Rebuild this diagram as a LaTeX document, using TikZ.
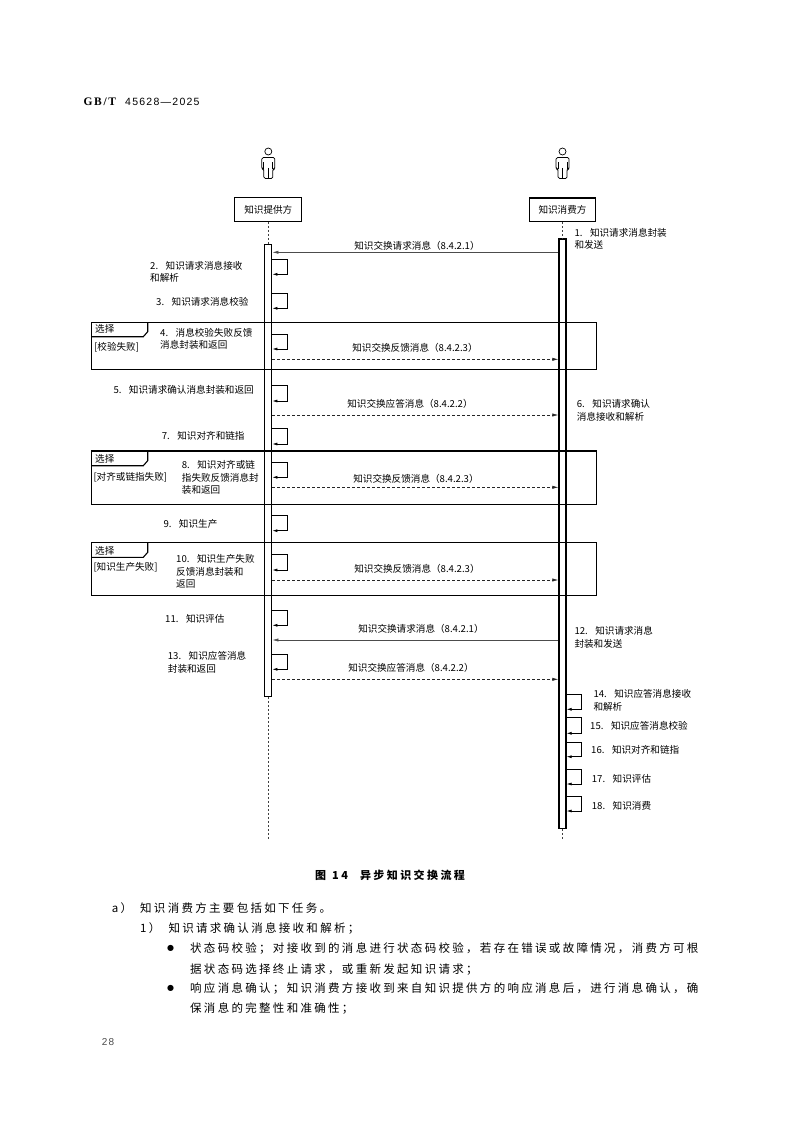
\documentclass[tikz,border=0pt]{standalone}
\usepackage{fontspec}
\setmainfont{Noto Sans CJK SC}
\newfontfamily\cjk{Noto Sans CJK SC}
\newfontfamily\bodyfont[LetterSpace=20]{Noto Sans CJK SC}
\newfontfamily\capfont[LetterSpace=22]{Noto Sans CJK SC}
\newfontfamily\hdserif[LetterSpace=15]{Liberation Serif}
\newfontfamily\hdsans[LetterSpace=12]{Liberation Sans}
\newfontfamily\symfont{DejaVu Sans}
\usetikzlibrary{arrows.meta}
\newcommand{\stepno}[1]{#1.\hspace{7.5pt}}
\newcommand{\selfcall}[4]{%
  \draw[selfmsg] (#1.east |- 0,#2) -- (#4,#2) -- (#4,#3) -- (#1.east |- 0,#3);}
\newcommand{\actorfig}[2]{%
  \node[circle, draw, line width=0.7pt, minimum size=7pt, inner sep=0pt] (#2) at (#1,151.5) {};
  \draw[line width=0.7pt, rounded corners=1.5pt] (#1-4.5,178.5) -- (#1-4.5,169) -- (#1-6.5,169) -- (#1-6.5,157.5) -- (#1+6.5,157.5) -- (#1+6.5,169) -- (#1+4.5,169) -- (#1+4.5,178.5) -- cycle;
  \draw[line width=0.7pt] (#1-4.5,162.5) -- (#1-4.5,169) (#1+4.5,162.5) -- (#1+4.5,169) (#1,168) -- (#1,178.5);}
\tikzset{
  dtext/.style={font=\cjk\fontsize{9.6}{12.4}\selectfont, inner sep=0pt, anchor=base west, align=left},
  mtext/.style={font=\cjk\fontsize{9.6}{12.4}\selectfont, inner sep=0pt, anchor=base},
  btext/.style={font=\bodyfont\fontsize{11.5}{14}\selectfont, inner sep=0pt, anchor=base west},
  actorbox/.style={draw, line width=1.1pt, minimum width=67pt, minimum height=23.5pt, inner sep=0pt, font=\cjk\fontsize{9.6}{12}\selectfont},
  lifeline/.style={line width=0.6pt, dash pattern=on 2pt off 2pt, black!75},
  actbar/.style={draw, line width=1.2pt, fill=white, minimum width=7pt, inner sep=0pt, anchor=north},
  callmsg/.style={line width=0.6pt, black!70, -{Latex[length=6pt,width=3.2pt]}},
  retmsg/.style={line width=0.6pt, black!85, dash pattern=on 3pt off 2pt, -{Latex[length=6pt,width=3.2pt]}},
  selfmsg/.style={line width=0.7pt, -{Latex[length=5pt,width=3pt]}},
  frm/.style={line width=1.1pt},
}
\begin{document}
\begin{tikzpicture}[x=1pt,y=-1pt]
\useasboundingbox (0,0) rectangle (794,1123);
\fill[white] (0,0) rectangle (794,1123);

% header
\node[font=\hdserif\bfseries\fontsize{11.5}{13}\selectfont, anchor=base west, inner sep=0pt] (hd1) at (83.3,105.7) {GB/T};
\node[font=\hdsans\fontsize{10.5}{13}\selectfont, anchor=base west, inner sep=0pt] (hd2) at (125,105.7) {45628—2025};

% actors
\actorfig{268.3}{phead}
\actorfig{562.5}{chead}
\node[actorbox] (pbox) at (268.3,209.7) {知识提供方};
\node[actorbox, minimum width=66pt] (cbox) at (562.5,209.8) {知识消费方};

% activation bars
\node[actbar, minimum height=451.7pt] (pbar) at (268.3,244) {};
\node[actbar, minimum height=589.4pt] (cbar) at (562.5,238.3) {};
\coordinate (pend) at (268.3,840);
\coordinate (cend) at (562.5,840);
\draw[lifeline] (pbox.south) -- (pbar.north);
\draw[lifeline] (cbox.south) -- (cbar.north);
\draw[lifeline] (pbar.south) -- (pend);
\draw[lifeline] (cbar.south) -- (cend);

% frames
\draw[frm] (91.7,322.3) rectangle (596.7,369.3);
\draw[frm] (91.7,336.7) -- (143.3,336.7) -- (147.7,331.7) -- (147.7,322.3);
\draw[frm] (91.7,451) rectangle (596.7,504.7);
\draw[frm] (91.7,465.7) -- (143.3,465.7) -- (147.7,460.7) -- (147.7,451);
\draw[frm] (91.7,542.7) rectangle (596.7,595.3);
\draw[frm] (91.7,557.3) -- (143.3,557.3) -- (147.7,552.3) -- (147.7,542.7);
\node[dtext] (f1a) at (95,332.9) {选择};
\node[dtext] (f1b) at (94,350.3) {[校验失败]};
\node[dtext] (f2a) at (95,462.9) {选择};
\node[dtext] (f2b) at (93.3,480.3) {[对齐或链指失败]};
\node[dtext] (f3a) at (95,554.3) {选择};
\node[dtext] (f3b) at (93.3,570.3) {[知识生产失败]};

% messages
\draw[callmsg] (cbar.west |- 0,252.3) -- (pbar.east |- 0,252.3);
\draw[retmsg] (pbar.east |- 0,359.3) -- (cbar.west |- 0,359.3);
\draw[retmsg] (pbar.east |- 0,415) -- (cbar.west |- 0,415);
\draw[retmsg] (pbar.east |- 0,487.3) -- (cbar.west |- 0,487.3);
\draw[retmsg] (pbar.east |- 0,580) -- (cbar.west |- 0,580);
\draw[callmsg] (cbar.west |- 0,640) -- (pbar.east |- 0,640);
\draw[retmsg] (pbar.east |- 0,679.3) -- (cbar.west |- 0,679.3);

\node[mtext] (m1) at (417,249.6) {知识交换请求消息（8.4.2.1）};
\node[mtext] (m4) at (415,351.3) {知识交换反馈消息（8.4.2.3）};
\node[mtext] (m5) at (410,407.9) {知识交换应答消息（8.4.2.2）};
\node[mtext] (m8) at (416,482.6) {知识交换反馈消息（8.4.2.3）};
\node[mtext] (m10) at (417,572.9) {知识交换反馈消息（8.4.2.3）};
\node[mtext] (m12) at (421,632.9) {知识交换请求消息（8.4.2.1）};
\node[mtext] (m13) at (411,671.3) {知识交换应答消息（8.4.2.2）};

% self calls provider
\selfcall{pbar}{259}{274.3}{287.7}
\selfcall{pbar}{293.7}{308.3}{287.7}
\selfcall{pbar}{334.3}{349}{287.7}
\selfcall{pbar}{385.7}{401}{287.7}
\selfcall{pbar}{428.3}{444}{287.7}
\selfcall{pbar}{462.7}{477.3}{287.7}
\selfcall{pbar}{515.7}{530.7}{287.7}
\selfcall{pbar}{554.3}{570}{287.7}
\selfcall{pbar}{610}{625.3}{287.7}
\selfcall{pbar}{654}{669.3}{287.7}
% self calls consumer
\selfcall{cbar}{694.3}{709.3}{581.7}
\selfcall{cbar}{717.7}{733.3}{581.7}
\selfcall{cbar}{742.7}{756.7}{581.7}
\selfcall{cbar}{769.3}{784}{581.7}
\selfcall{cbar}{796}{811}{581.7}

% step labels (base anchor = baseline of last line)
\node[dtext] (s1) at (574.3,248.7) {\stepno{1}知识请求消息封装\\和发送};
\node[dtext] (s2) at (150,281.7) {\stepno{2}知识请求消息接收\\和解析};
\node[dtext] (s3) at (156,305.9) {\stepno{3}知识请求消息校验};
\node[dtext] (s4) at (160,348.7) {\stepno{4}消息校验失败反馈\\消息封装和返回};
\node[dtext] (s5) at (113.3,393.6) {\stepno{5}知识请求确认消息封装和返回};
\node[dtext] (s6) at (576.7,420.3) {\stepno{6}知识请求确认\\消息接收和解析};
\node[dtext] (s7) at (161.7,439.3) {\stepno{7}知识对齐和链指};
\node[dtext] (s8) at (181.7,493.4) {\stepno{8}知识对齐或链\\指失败反馈消息封\\装和返回};
\node[dtext] (s9) at (163.3,527.6) {\stepno{9}知识生产};
\node[dtext] (s10) at (176,587.4) {\stepno{10}知识生产失败\\反馈消息封装和\\返回};
\node[dtext] (s11) at (165,622.6) {\stepno{11}知识评估};
\node[dtext] (s12) at (574.3,647) {\stepno{12}知识请求消息\\封装和发送};
\node[dtext] (s13) at (167.7,672) {\stepno{13}知识应答消息\\封装和返回};
\node[dtext] (s14) at (593.3,710.3) {\stepno{14}知识应答消息接收\\和解析};
\node[dtext] (s15) at (590,729.6) {\stepno{15}知识应答消息校验};
\node[dtext] (s16) at (591,753.6) {\stepno{16}知识对齐和链指};
\node[dtext] (s17) at (591.7,782.6) {\stepno{17}知识评估};
\node[dtext] (s18) at (591.7,809.3) {\stepno{18}知识消费};

% caption
\node[font=\capfont\bfseries\fontsize{11}{13}\selectfont, inner sep=0pt, anchor=base west] (cap) at (315,879.2) {图\hspace{6pt}14\hspace{12pt}异步知识交换流程};

% body text
\node[btext] (ta) at (111.7,912.1) {a）};
\node[btext] (t1) at (140,912.1) {知识消费方主要包括如下任务。};
\node[btext] (tb) at (140,932.7) {1）};
\node[btext] (t2) at (168.3,932.7) {知识请求确认消息接收和解析；};
\node[font=\symfont\fontsize{8}{8}\selectfont, inner sep=0pt] (bul1) at (170.7,948.3) {●};
\node[btext] (t3) at (190,952.7) {状态码校验；对接收到的消息进行状态码校验，若存在错误或故障情况，消费方可根};
\node[btext] (t4) at (190,973.7) {据状态码选择终止请求，或重新发起知识请求；};
\node[font=\symfont\fontsize{8}{8}\selectfont, inner sep=0pt] (bul2) at (170.7,988.3) {●};
\node[btext] (t5) at (190,992.7) {响应消息确认；知识消费方接收到来自知识提供方的响应消息后，进行消息确认，确};
\node[btext] (t6) at (190,1012.7) {保消息的完整性和准确性；};

% page number
\node[font=\hdsans\fontsize{10}{12}\selectfont, text=black!70, inner sep=0pt, anchor=base west] (pg) at (101.7,1045.3) {28};
\end{tikzpicture}
\end{document}
